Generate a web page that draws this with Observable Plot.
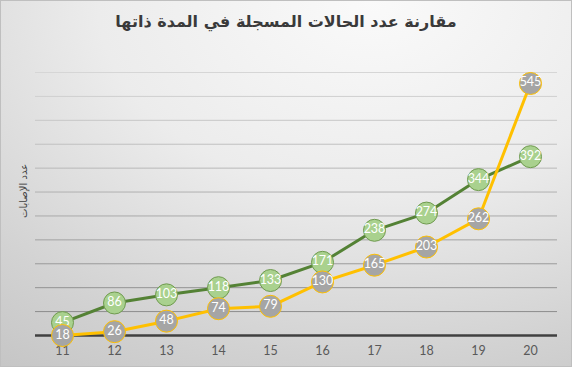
<!DOCTYPE html>
<html><head><meta charset="utf-8">
<script src="https://cdn.jsdelivr.net/npm/d3@7"></script>
<script src="https://cdn.jsdelivr.net/npm/@observablehq/plot@0.6"></script>
<style>
body{margin:0;}
#chart{position:relative;width:570px;height:365px;border:1px solid #bfbfbf;background:radial-gradient(ellipse 120% 130% at 65% 0%, #fafafa 0%, #ececec 40%, #d2d2d2 75%, #c2c2c2 100%);overflow:hidden;font-family:Lato, sans-serif}
#title{height:39px;padding-top:11px;line-height:46px;text-align:center;font:bold 16px "DejaVu Sans", sans-serif;color:#3a3a3a;direction:rtl}
svg{display:block;background:transparent}
</style>
</head><body>
<div id="chart"><div id="title">مقارنة عدد الحالات المسجلة في المدة ذاتها</div></div>
<script>
const days = [11, 12, 13, 14, 15, 16, 17, 18, 19, 20];
const seriesA = [45, 86, 103, 118, 133, 171, 238, 274, 344, 392];
const seriesB = [18, 26, 48, 74, 79, 130, 165, 203, 262, 545];
const yTicks = [18, 68, 118, 168, 218, 268, 318, 368, 418, 468, 518, 568];
const yLabel = "عدد الإصابات";

const A = days.map((d, i) => ({day: d, v: seriesA[i]}));
const B = days.map((d, i) => ({day: d, v: seriesB[i]}));
const grid = yTicks.slice(1).map((t, i, arr) => ({t, c: d3.interpolateRgb("#8c8c8c", "#d6d6d6")(i / (arr.length - 1))}));

const plot = Plot.plot({
  width: 570, height: 315,
  marginLeft: 34, marginRight: 14, marginTop: 21, marginBottom: 31,
  style: {background: "transparent", fontFamily: "Lato, sans-serif"},
  x: {type: "point", domain: days, padding: 0.5},
  y: {domain: [18, 568]},
  marks: [
    Plot.ruleY(grid, {y: "t", stroke: "c", strokeWidth: 1}),
    Plot.ruleY([18], {stroke: "#404040", strokeWidth: 2.5}),
    Plot.axisX({tickSize: 0, tickPadding: 11, fontSize: 12.5, color: "#595959", label: null}),
    Plot.axisY({ticks: [], label: null}),
    Plot.text([yLabel], {frameAnchor: "left", dx: -12, dy: 14, rotate: -90, fontSize: 10, fill: "#404040", fontFamily: "DejaVu Sans"}),
    Plot.line(A, {x: "day", y: "v", stroke: "#548235", strokeWidth: 3}),
    Plot.dot(A, {x: "day", y: "v", r: 11, fill: "#a9d18e", stroke: "#6f9a4f", strokeWidth: 1}),
    Plot.text(A, {x: "day", y: "v", text: d => d.v, fill: "white", fontSize: 12.5, fontFamily: "Lato", dy: -1}),
    Plot.line(B, {x: "day", y: "v", stroke: "#ffc000", strokeWidth: 3}),
    Plot.dot(B, {x: "day", y: "v", r: 11, fill: "#a5a5a5", stroke: "#ffc000", strokeWidth: 1}),
    Plot.text(B, {x: "day", y: "v", text: d => d.v, fill: "white", fontSize: 12.5, fontFamily: "Lato", dy: -1})
  ]
});
document.getElementById("chart").appendChild(plot);
</script>
</body></html>
